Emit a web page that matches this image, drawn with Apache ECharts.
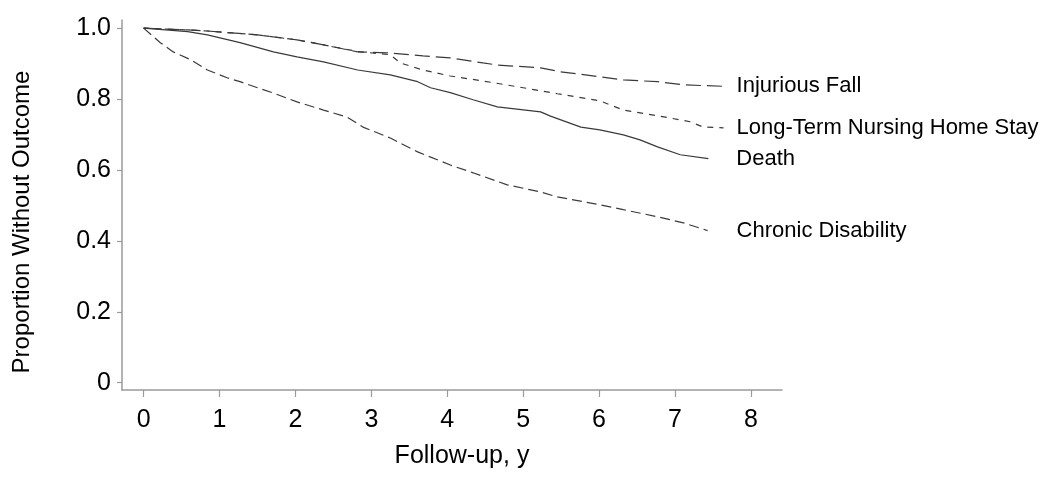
<!DOCTYPE html>
<html>
<head>
<meta charset="utf-8">
<script src="https://cdn.jsdelivr.net/npm/echarts@6/dist/echarts.min.js"></script>
<style>html,body{margin:0;padding:0;background:#fff}#chart{width:1050px;height:500px}</style>
</head>
<body>
<div id="chart"></div>
<script>
// Data (follow-up years, proportion without outcome)
var seriesNames = ['Injurious Fall', 'Long-Term Nursing Home Stay', 'Death', 'Chronic Disability'];
var injuriousFall = [[0,1],[0.58,0.995],[0.84,0.992],[1.5,0.981],[2.02,0.967],[2.37,0.953],[2.82,0.933],[3.25,0.93],[3.68,0.922],[4.04,0.916],[4.47,0.902],[4.66,0.896],[5.23,0.888],[5.49,0.877],[6.01,0.863],[6.32,0.854],[6.77,0.849],[7.11,0.84],[7.64,0.836]];
var nursingHome = [[0,1],[0.58,0.995],[0.84,0.992],[1.5,0.981],[2.02,0.967],[2.37,0.953],[2.82,0.934],[3.25,0.925],[3.38,0.902],[3.68,0.882],[4.04,0.865],[4.47,0.851],[5.0,0.832],[5.45,0.815],[6.01,0.795],[6.32,0.769],[6.77,0.753],[7.2,0.736],[7.37,0.721],[7.64,0.719]];
var death = [[0,1],[0.58,0.99],[0.84,0.981],[1.27,0.959],[1.71,0.933],[2.02,0.919],[2.37,0.905],[2.82,0.882],[3.25,0.868],[3.61,0.849],[3.78,0.832],[4.04,0.818],[4.34,0.798],[4.66,0.778],[5.23,0.764],[5.36,0.752],[5.76,0.721],[6.01,0.713],[6.32,0.699],[6.54,0.685],[6.77,0.665],[7.07,0.643],[7.44,0.632]];
var chronicDisability = [[0,1],[0.22,0.959],[0.39,0.933],[0.62,0.911],[0.84,0.882],[1.1,0.86],[1.27,0.849],[1.5,0.832],[1.71,0.817],[2.02,0.792],[2.37,0.769],[2.68,0.749],[2.89,0.721],[3.25,0.69],[3.61,0.651],[4.04,0.614],[4.34,0.592],[4.79,0.558],[5.23,0.538],[5.45,0.524],[6.01,0.502],[6.32,0.488],[6.77,0.468],[7.11,0.451],[7.43,0.429]];
var xTicks = [0,1,2,3,4,5,6,7,8];
var yTicks = [0,0.2,0.4,0.6,0.8,1.0];
var xTitle = 'Follow-up, y';
var yTitle = 'Proportion Without Outcome';

var chart = echarts.init(document.getElementById('chart'), null, {renderer: 'canvas'});
var FONT = '"Liberation Sans", Arial, Helvetica, sans-serif';
var lineColor = '#3a3a3a';
var axisColor = '#9a9a9a';

function mkSeries(name, data, dash, dist) {
  return {
    name: name, type: 'line', data: data, showSymbol: false, symbol: 'none',
    lineStyle: {color: lineColor, width: 1.2, type: dash},
    endLabel: {show: true, formatter: name, distance: dist, color: '#000',
               fontFamily: FONT, fontSize: 22},
    emphasis: {disabled: true}, silent: true
  };
}

chart.setOption({
  animation: false,
  backgroundColor: '#fff',
  grid: {left: 122, right: 268, top: 20, bottom: 110, containLabel: false},
  xAxis: {
    type: 'value', min: -0.285, max: 8.41,
    axisLine: {show: true, onZero: false, lineStyle: {color: axisColor, width: 1.5}},
    axisTick: {show: true, length: 7, customValues: xTicks, lineStyle: {color: axisColor, width: 1.2}},
    axisLabel: {customValues: xTicks, margin: 18, color: '#000', fontFamily: FONT, fontSize: 25},
    splitLine: {show: false}
  },
  yAxis: {
    type: 'value', min: -0.0206, max: 1.023,
    axisLine: {show: true, onZero: false, lineStyle: {color: axisColor, width: 1.5}},
    axisTick: {show: true, length: 5, customValues: yTicks, lineStyle: {color: axisColor, width: 1.2}},
    axisLabel: {customValues: yTicks, margin: 11, color: '#000', fontFamily: FONT, fontSize: 25,
                formatter: function (v) { return v === 0 ? '0' : v.toFixed(1); }},
    splitLine: {show: false}
  },
  graphic: [
    {type: 'text', style: {text: xTitle, fontFamily: FONT, fontSize: 25, fill: '#000',
      x: 462, y: 456, align: 'center', verticalAlign: 'middle'}},
    {type: 'text', rotation: Math.PI / 2, x: 22, y: 222,
      style: {text: yTitle, fontFamily: FONT, fontSize: 24, fill: '#000', align: 'center', verticalAlign: 'middle'}}
  ],
  series: [
    mkSeries(seriesNames[0], injuriousFall, [15, 6], 13),
    mkSeries(seriesNames[1], nursingHome, [6, 6], 13),
    mkSeries(seriesNames[2], death, 'solid', 28),
    mkSeries(seriesNames[3], chronicDisability, [10, 5], 29)
  ]
});
</script>
</body>
</html>
